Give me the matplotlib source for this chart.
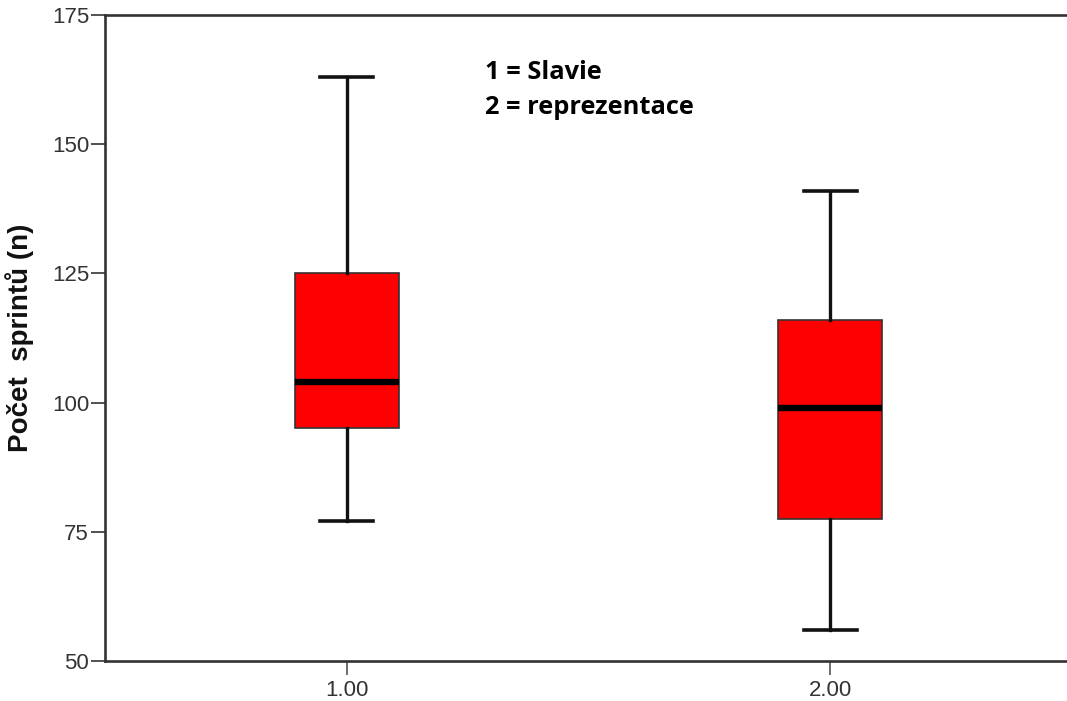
import matplotlib
matplotlib.use("Agg")
import matplotlib.pyplot as plt

# Group codes and box-plot summaries (sprint counts)
groups = [1.0, 2.0]
tick_labels = ["1.00", "2.00"]
whisker_low = [77, 56]
q1 = [95, 77.5]
median = [104, 99]
q3 = [125, 116]
whisker_high = [163, 141]

legend_lines = ["1 = Slavie", "2 = reprezentace"]
y_label = "Počet  sprintů (n)"
y_ticks = [50, 75, 100, 125, 150, 175]

W, H = 1067, 701
fig = plt.figure(figsize=(W / 100, H / 100), dpi=100)
ax = fig.add_axes([105 / W, 40 / H, (W - 105) / W, (661 - 15) / H])

stats = []
for i in range(len(groups)):
    stats.append(dict(whislo=whisker_low[i], q1=q1[i], med=median[i],
                      q3=q3[i], whishi=whisker_high[i], fliers=[]))

ax.bxp(stats, positions=groups, widths=0.215, patch_artist=True,
       showfliers=False,
       boxprops=dict(facecolor="#ff0000", edgecolor="#333333", linewidth=1.2),
       medianprops=dict(color="black", linewidth=4.6, solid_capstyle="butt"),
       whiskerprops=dict(color="#111111", linewidth=2.4),
       capprops=dict(color="#111111", linewidth=2.6),
       capwidths=0.11)

ax.set_xlim(0.5, 2.49)
ax.set_ylim(50, 175)
ax.set_yticks(y_ticks)
ax.set_xticks(groups)
ax.set_xticklabels(tick_labels)

for side in ["left", "bottom", "top"]:
    ax.spines[side].set_color("#333333")
    ax.spines[side].set_linewidth(1.9)
ax.spines["right"].set_visible(False)

ax.tick_params(axis="y", direction="out", length=10, width=1.2,
               color="#333333", pad=1.5, labelsize=16,
               labelcolor="#333333")
ax.tick_params(axis="x", direction="out", length=10, width=1.2,
               color="#555555", pad=4, labelsize=16,
               labelcolor="#333333")
for lbl in ax.get_xticklabels() + ax.get_yticklabels():
    lbl.set_family("Liberation Sans")

ax.set_ylabel(y_label, fontsize=20, fontweight="bold",
              family="Liberation Sans", labelpad=13, color="#111111")

fig.text(485 / W, 1 - 79 / H, legend_lines[0], fontsize=18.3,
         fontweight="bold", family="Open Sans", va="baseline", color="black")
fig.text(485 / W, 1 - 114 / H, legend_lines[1], fontsize=18.3,
         fontweight="bold", family="Open Sans", va="baseline", color="black")

fig.savefig("out.png", dpi=100, facecolor="white")
